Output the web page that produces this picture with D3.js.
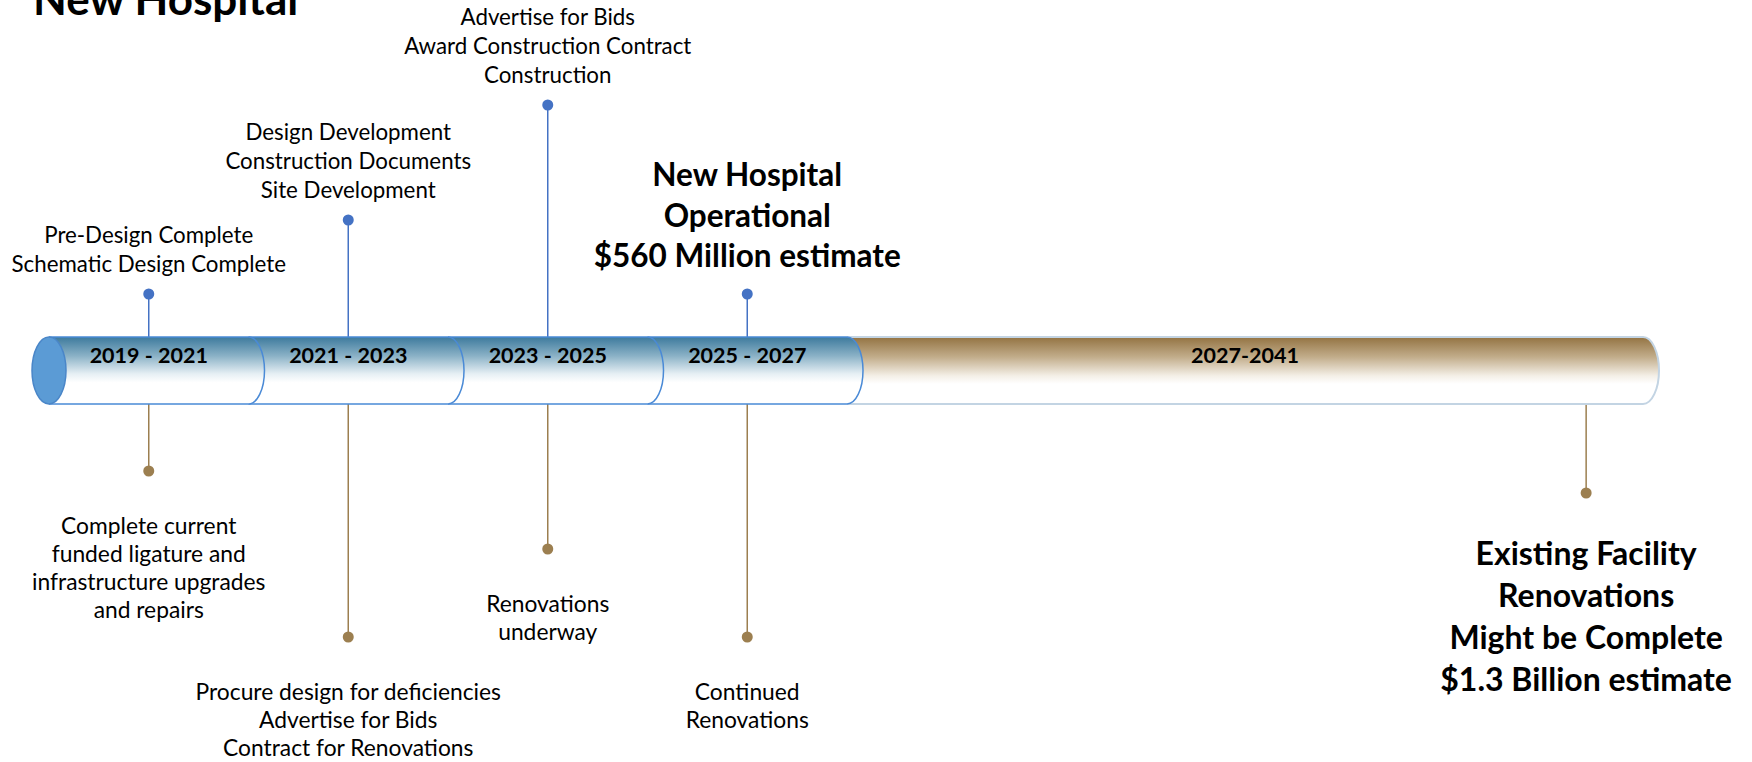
<!DOCTYPE html>
<html>
<head>
<meta charset="utf-8">
<script src="https://cdn.jsdelivr.net/npm/d3@7/dist/d3.min.js"></script>
<style>
  html, body { margin: 0; padding: 0; background: #ffffff; }
  svg { display: block; }
</style>
</head>
<body>
<svg id="chart" width="1752" height="762"></svg>
<script>
// ---------- DATA ----------
const title = "New Hospital";

const periods      = ["2019 - 2021", "2021 - 2023", "2023 - 2025", "2025 - 2027", "2027-2041"];
const periodStart  = [2019, 2021, 2023, 2025, 2027];
const periodEnd    = [2021, 2023, 2025, 2027, 2041];
const periodKind   = ["new", "new", "new", "new", "existing"];

// milestones above the bar (new hospital track)
const topYears  = [2020, 2022, 2024, 2026];
const topRise   = [43, 117, 232, 43];
const topBold   = [false, false, false, true];
const topLabels = [
  ["Pre-Design Complete", "Schematic Design Complete"],
  ["Design Development", "Construction Documents", "Site Development"],
  ["Advertise for Bids", "Award Construction Contract", "Construction"],
  ["New Hospital", "Operational", "$560 Million estimate"]
];

// milestones below the bar (existing facility track)
const bottomYears  = [2020, 2022, 2024, 2026, 2040];
const bottomDrop   = [67, 233, 145, 233, 89];
const bottomBold   = [false, false, false, false, true];
const bottomLabels = [
  ["Complete current", "funded ligature and", "infrastructure upgrades", "and repairs"],
  ["Procure design for deficiencies", "Advertise for Bids", "Contract for Renovations"],
  ["Renovations", "underway"],
  ["Continued", "Renovations"],
  ["Existing Facility", "Renovations", "Might be Complete", "$1.3 Billion estimate"]
];

// ---------- STYLE ----------
const FONT = "Lato, 'Open Sans', sans-serif";
const BAR_TOP = 337, BAR_BOT = 404;
const RX = 16;
const BLUE = "#4472c4";
const TAN = "#9c7f50";

const svg = d3.select("#chart");
const defs = svg.append("defs");

function vGrad(id, stops) {
  const g = defs.append("linearGradient").attr("id", id)
    .attr("x1", 0).attr("y1", 0).attr("x2", 0).attr("y2", 1);
  stops.forEach(s => g.append("stop").attr("offset", s[0]).attr("stop-color", s[1]));
}
vGrad("gBlue", [[0, "#3d7a9d"], [0.28, "#8ab1c6"], [0.55, "#e6eff4"], [0.68, "#ffffff"], [1, "#ffffff"]]);
vGrad("gTan",  [[0, "#937342"], [0.3, "#c2ad8b"], [0.58, "#f4efe7"], [0.7, "#ffffff"], [1, "#ffffff"]]);

// ---------- SCALES ----------
const x = d3.scaleLinear().domain([2019, 2027, 2041]).range([49, 847, 1643]);
const yUp = d3.scaleLinear().domain([0, 232]).range([BAR_TOP, 105]);
const yDown = d3.scaleLinear().domain([0, 233]).range([BAR_BOT, 637]);

// ---------- TITLE ----------
svg.append("text")
  .attr("x", 33).attr("y", 15)
  .attr("font-family", FONT).attr("font-weight", 700).attr("font-size", 44)
  .attr("fill", "#000")
  .text(title);

// ---------- STEMS ----------
const topData = topYears.map((yr, i) => ({ yr, v: topRise[i], lines: topLabels[i], bold: topBold[i] }));
const botData = bottomYears.map((yr, i) => ({ yr, v: bottomDrop[i], lines: bottomLabels[i], bold: bottomBold[i] }));

svg.append("g").selectAll("line").data(topData).join("line")
  .attr("x1", d => x(d.yr)).attr("x2", d => x(d.yr))
  .attr("y1", d => yUp(d.v)).attr("y2", BAR_TOP)
  .attr("stroke", BLUE).attr("stroke-width", 1.5);

svg.append("g").selectAll("line").data(botData).join("line")
  .attr("x1", d => x(d.yr)).attr("x2", d => x(d.yr))
  .attr("y1", BAR_BOT).attr("y2", d => yDown(d.v))
  .attr("stroke", TAN).attr("stroke-width", 1.5);

svg.append("g").selectAll("circle").data(topData).join("circle")
  .attr("cx", d => x(d.yr)).attr("cy", d => yUp(d.v)).attr("r", 5.5)
  .attr("fill", BLUE);

svg.append("g").selectAll("circle").data(botData).join("circle")
  .attr("cx", d => x(d.yr)).attr("cy", d => yDown(d.v)).attr("r", 5.5)
  .attr("fill", TAN);

// ---------- BAR (cylinder segments) ----------
const segs = periods.map((p, i) => ({ label: p, x0: x(periodStart[i]), x1: x(periodEnd[i]), kind: periodKind[i] }));
const ry = (BAR_BOT - BAR_TOP) / 2;

const segG = svg.append("g");
segs.slice().reverse().forEach(s => {
  const g = segG.append("g");
  g.append("path")
    .attr("d", `M${s.x0},${BAR_TOP} L${s.x1},${BAR_TOP} A${RX},${ry} 0 0 1 ${s.x1},${BAR_BOT} L${s.x0},${BAR_BOT} Z`)
    .attr("fill", s.kind === "new" ? "url(#gBlue)" : "url(#gTan)")
    .attr("stroke", "none");
  g.append("path")
    .attr("d", `M${s.x0},${BAR_TOP} L${s.x1},${BAR_TOP} A${RX},${ry} 0 0 1 ${s.x1},${BAR_BOT} L${s.x0},${BAR_BOT}`)
    .attr("fill", "none")
    .attr("stroke", s.kind === "new" ? "#4a8ad6" : "#c3d4e3")
    .attr("stroke-width", s.kind === "new" ? 1.5 : 2);
});

// left end cap
svg.append("ellipse")
  .attr("cx", x(periodStart[0])).attr("cy", (BAR_TOP + BAR_BOT) / 2)
  .attr("rx", RX + 1).attr("ry", ry)
  .attr("fill", "#5b9bd5").attr("stroke", "#4a86c8").attr("stroke-width", 1.5);

// period labels
svg.append("g").selectAll("text").data(segs).join("text")
  .attr("x", d => (d.x0 + d.x1) / 2).attr("y", 363)
  .attr("text-anchor", "middle")
  .attr("font-family", FONT).attr("font-weight", 700).attr("font-size", 21.5)
  .attr("fill", "#000")
  .text(d => d.label);

// ---------- MILESTONE LABELS ----------
function block(d, above) {
  const fs = d.bold ? (above ? 31.5 : 32) : (above ? 22.3 : 22.8);
  const lh = d.bold ? (above ? 40.5 : 42) : (above ? 29 : 28);
  const n = d.lines.length;
  const cy = above ? yUp(d.v) : yDown(d.v);
  let first;
  if (above) {
    const last = cy - (d.bold ? 27 : 22.5);
    first = last - (n - 1) * lh;
  } else {
    first = cy + (d.bold ? 72 : 63);
  }
  const t = svg.append("text")
    .attr("text-anchor", "middle")
    .attr("font-family", FONT)
    .attr("font-weight", d.bold ? 700 : 400)
    .attr("font-size", fs)
    .attr("fill", "#000");
  d.lines.forEach((ln, j) => {
    t.append("tspan").attr("x", x(d.yr)).attr("y", first + j * lh).text(ln);
  });
}
topData.forEach(d => block(d, true));
botData.forEach(d => block(d, false));
</script>
</body>
</html>
